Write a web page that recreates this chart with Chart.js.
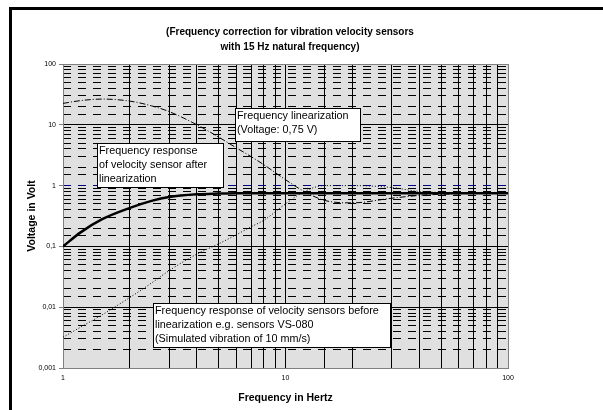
<!DOCTYPE html>
<html>
<head>
<meta charset="utf-8">
<script src="https://cdn.jsdelivr.net/npm/chart.js@4.4.0/dist/chart.umd.min.js"></script>
<style>
  html, body { margin: 0; padding: 0; background: #fff; }
</style>
</head>
<body>
<canvas id="chart" width="603" height="410"></canvas>
<script>
// frequency in Hz (x) and the three curves (Volt)
const freq        = [1, 1.2, 1.5, 2, 2.5, 3, 4, 5, 6, 7, 8, 10, 12, 15, 20, 30, 40, 50, 70, 100];
const afterLin    = [0.1, 0.17, 0.28, 0.43, 0.56, 0.65, 0.72, 0.74, 0.75, 0.75, 0.75, 0.75, 0.75, 0.75, 0.75, 0.75, 0.75, 0.75, 0.75, 0.75];
const linearizing = [22.5, 25, 26.5, 24.5, 20.5, 16.5, 10, 6.3, 4.2, 3.0, 2.2, 1.25, 0.82, 0.57, 0.52, 0.62, 0.69, 0.72, 0.74, 0.75];
const beforeLin   = [0.0032, 0.0047, 0.0075, 0.0145, 0.025, 0.04, 0.075, 0.11, 0.155, 0.21, 0.27, 0.5, 0.78, 1.0, 1.0, 0.93, 0.8, 0.77, 0.75, 0.75];

const xTickLabels = ["1", "10", "100"];
const yTickLabels = ["100", "10", "1", "0,1", "0,01", "0,001"];

const titleLines = ["(Frequency correction for vibration velocity sensors", "with 15 Hz natural frequency)"];
const notes = [
  { x0: 1.42, x1: 5.25, y0: 5.1, y1: 0.96,
    lines: ["Frequency response", "of velocity sensor after", "linearization"] },
  { x0: 5.94, x1: 21.7, y0: 19.1, y1: 5.5,
    lines: ["Frequency linearization", "(Voltage: 0,75 V)"] },
  { x0: 2.54, x1: 29.5, y0: 0.01155, y1: 0.00218,
    lines: ["Frequency response of velocity sensors before", "linearization e.g. sensors VS-080", "(Simulated vibration of 10 mm/s)"] }
];

function pts(ys) { return freq.map((f, i) => ({ x: f, y: ys[i] })); }
function isDecade(v) { const l = Math.log10(v); return Math.abs(l - Math.round(l)) < 1e-6; }
function fmt(v) { return String(+v.toPrecision(3)).replace('.', ','); }

const FONT = "'Liberation Sans', Arial, sans-serif";

const decor = {
  id: 'decor',
  beforeDraw(chart) {
    const c = chart.ctx, a = chart.chartArea;
    c.save();
    c.fillStyle = '#fff';
    c.fillRect(0, 0, chart.width, chart.height);
    c.fillStyle = '#000';
    c.fillRect(9, 7, chart.width - 9, 3);
    c.fillRect(9, 7, 3, chart.height - 7);
    c.fillStyle = '#e0e0e0';
    c.fillRect(a.left, a.top, a.right - a.left, a.bottom - a.top);
    c.fillStyle = '#000';
    c.font = 'bold 10px ' + FONT;
    c.textAlign = 'center';
    c.textBaseline = 'middle';
    titleLines.forEach((t, i) => c.fillText(t, 290, 32 + i * 15));
    c.restore();
  },
  beforeDatasetsDraw(chart) {
    const c = chart.ctx, a = chart.chartArea;
    c.save();
    c.strokeStyle = '#808080';
    c.lineWidth = 1;
    c.strokeRect(Math.round(a.left) + 0.5, Math.round(a.top) + 0.5, Math.round(a.right - a.left), Math.round(a.bottom - a.top));
    c.restore();
  },
  afterDatasetsDraw(chart) {
    const c = chart.ctx, xs = chart.scales.x, ys = chart.scales.y;
    c.save();
    c.font = '10.8px ' + FONT;
    c.textBaseline = 'middle';
    c.textAlign = 'left';
    notes.forEach(n => {
      const l = Math.round(xs.getPixelForValue(n.x0)), r = Math.round(xs.getPixelForValue(n.x1));
      const t = Math.round(ys.getPixelForValue(n.y0)), b = Math.round(ys.getPixelForValue(n.y1));
      c.fillStyle = '#fff';
      c.fillRect(l, t, r - l, b - t);
      c.strokeStyle = '#000';
      c.lineWidth = 1;
      c.strokeRect(l + 0.5, t + 0.5, r - l, b - t);
      c.fillStyle = '#000';
      n.lines.forEach((s, i) => c.fillText(s, l + 2, t + 8 + i * 14));
    });
    c.restore();
  }
};

new Chart(document.getElementById('chart'), {
  type: 'line',
  data: {
    datasets: [
      { label: 'after', data: pts(afterLin), borderColor: '#000', borderWidth: 2.5,
        pointRadius: 0, cubicInterpolationMode: 'monotone' },
      { label: 'linearization', data: pts(linearizing), borderColor: '#000', borderWidth: 1,
        borderDash: [6, 2, 1, 2], pointRadius: 0, cubicInterpolationMode: 'monotone' },
      { label: 'before', data: pts(beforeLin), borderColor: '#000', borderWidth: 1,
        borderDash: [1, 2], pointRadius: 0, cubicInterpolationMode: 'monotone' }
    ]
  },
  options: {
    responsive: false,
    animation: false,
    devicePixelRatio: 1,
    layout: { padding: { left: 22, top: 64, right: 95, bottom: 2 } },
    plugins: { legend: { display: false }, tooltip: { enabled: false } },
    scales: {
      x: {
        type: 'logarithmic', min: 1, max: 100,
        grid: {
          color: ctx => (ctx.tick && (ctx.tick.value === 1 || ctx.tick.value === 100)) ? 'rgba(0,0,0,0)' : '#000',
          lineWidth: 1, drawTicks: false
        },
        border: { color: '#808080' },
        ticks: {
          autoSkip: false, maxRotation: 0, padding: 6,
          font: { family: FONT, size: 7 }, color: '#000',
          callback: v => isDecade(v) && xTickLabels.includes(String(v)) ? String(v) : ''
        },
        title: { display: true, text: 'Frequency in Hertz', font: { family: FONT, size: 10.5, weight: 'bold' }, color: '#000' },
        afterFit: s => { s.height = 40; }
      },
      y: {
        type: 'logarithmic', min: 0.001, max: 100,
        grid: {
          color: ctx => {
            const v = ctx.tick ? ctx.tick.value : 0;
            if (!isDecade(v)) return '#000';
            return Math.abs(v - 1) < 1e-9 ? '#000080' : 'rgba(0,0,0,0)';
          },
          tickColor: ctx => (ctx.tick && isDecade(ctx.tick.value)) ? '#808080' : 'rgba(0,0,0,0)',
          lineWidth: 1, tickLength: 4
        },
        border: { display: false, dash: [8, 7] },
        ticks: {
          autoSkip: false, padding: 3,
          font: { family: FONT, size: 7 }, color: '#000',
          callback: v => isDecade(v) && yTickLabels.includes(fmt(v)) ? fmt(v) : ''
        },
        title: { display: true, text: 'Voltage in Volt', font: { family: FONT, size: 10.5, weight: 'bold' }, color: '#000' },
        afterFit: s => { s.width = 41; }
      },
      y2: {
        type: 'logarithmic', min: 0.001, max: 100, position: 'left',
        grid: {
          color: ctx => {
            const v = ctx.tick ? ctx.tick.value : 0;
            if (!isDecade(v) || Math.abs(v - 1) < 1e-9 || v >= 99 || v <= 0.0011) return 'rgba(0,0,0,0)';
            return '#000';
          },
          lineWidth: 1, drawTicks: false
        },
        border: { display: false },
        ticks: { display: false, autoSkip: false },
        afterFit: s => { s.width = 0; }
      }
    }
  },
  plugins: [decor]
});
</script>
</body>
</html>
